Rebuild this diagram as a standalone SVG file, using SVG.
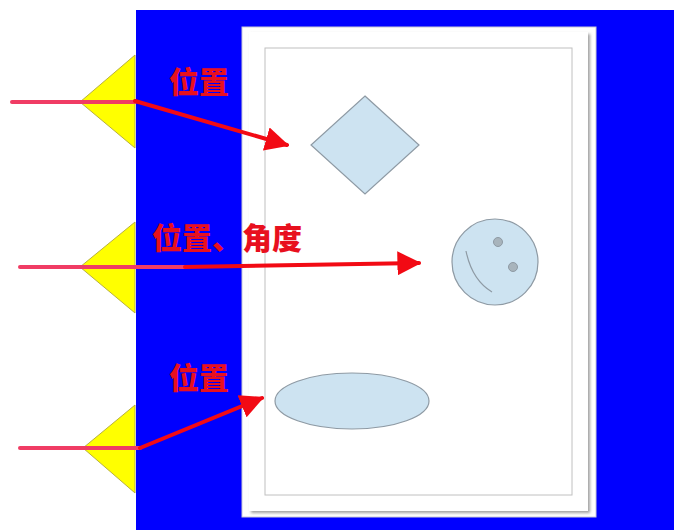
<svg xmlns="http://www.w3.org/2000/svg" width="674" height="530" viewBox="0 0 674 530">
<style>
.tri{fill:#ffff00;stroke:#b8b040;stroke-width:1}
.shape{fill:#cde3f1;stroke:#8e9aa4;stroke-width:1.2}
.lbl{font-family:"Noto Sans CJK SC","Noto Sans CJK JP",sans-serif;font-weight:900;font-size:30px;fill:#e8101e}
.pink{stroke:#f03c64;stroke-width:4;fill:none;stroke-linecap:round}
.red{stroke:#f20a14;stroke-width:4;fill:none;stroke-linecap:round}
</style>
<defs>
<marker id="ah" viewBox="0 0 10 10" refX="9" refY="5" markerWidth="6" markerHeight="6" markerUnits="strokeWidth" orient="auto">
<path d="M0,0 L10,5 L0,10 z" fill="#f20a14"/>
</marker>
<filter id="sh" x="-5%" y="-5%" width="110%" height="110%">
<feDropShadow dx="2" dy="2" stdDeviation="1.5" flood-color="#888" flood-opacity="0.8"/>
</filter>
</defs>
<rect width="674" height="530" fill="#ffffff"/>
<g id="background">
<rect x="136" y="10" width="538" height="520" fill="#0000ff"/>
<rect x="242" y="27" width="354" height="490" fill="#fefefe" stroke="#c8c8d8" stroke-width="1"/>
<rect x="249" y="32" width="339" height="479" fill="#ffffff" filter="url(#sh)"/>
<rect x="265" y="48" width="307" height="447" fill="none" stroke="#c0c0c0" stroke-width="1"/>
</g>
<g id="triangles">
<polygon class="tri" points="135,55 80,102 135,148"/>
<polygon class="tri" points="135,222 80,267 135,313"/>
<polygon class="tri" points="135,405 83,448 135,493"/>
</g>
<g id="diamond"><polygon class="shape" points="365,96 419,145 365,194 311,145"/></g>
<g id="smiley">
<circle class="shape" cx="495" cy="262" r="43"/>
<circle cx="498" cy="242" r="4.5" fill="#a8b4bc" stroke="#8e9aa4"/>
<circle cx="513" cy="267" r="4.5" fill="#a8b4bc" stroke="#8e9aa4"/>
<path d="M466,251 Q472,280 492,292" fill="none" stroke="#8e9aa4" stroke-width="1.2"/>
</g>
<g id="ellipse"><ellipse class="shape" cx="352" cy="401" rx="77" ry="28"/></g>
<g id="connectors">
<line class="pink" x1="12" y1="102" x2="135" y2="102"/>
<line class="red" x1="135" y1="101" x2="287" y2="145" marker-end="url(#ah)"/>
<line class="pink" x1="20" y1="267" x2="185" y2="267"/>
<line class="red" x1="185" y1="267" x2="419" y2="263" marker-end="url(#ah)"/>
<line class="pink" x1="20" y1="448" x2="140" y2="448"/>
<line class="red" x1="140" y1="448" x2="262" y2="398" marker-end="url(#ah)"/>
</g>
<g id="labels">
<text class="lbl" x="169" y="93">位置</text>
<text class="lbl" x="152" y="249">位置、角度</text>
<text class="lbl" x="169" y="389">位置</text>
</g>
</svg>
